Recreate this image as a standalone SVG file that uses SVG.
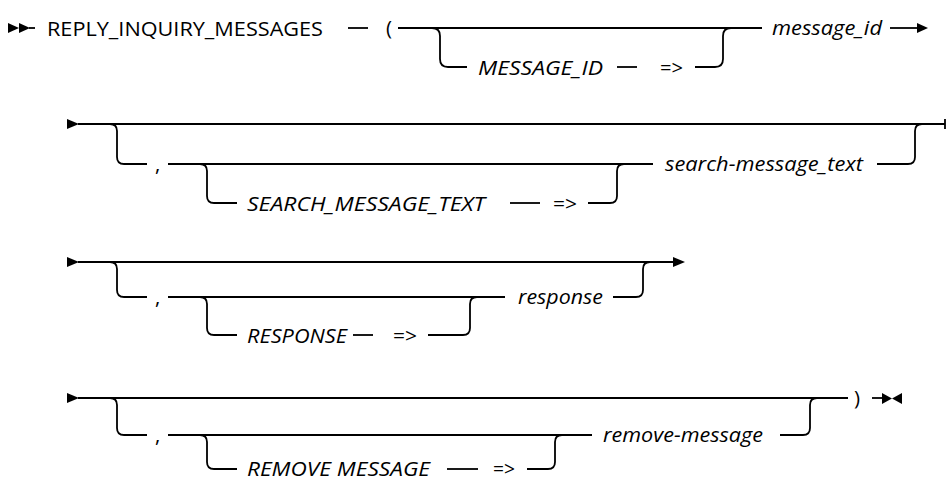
<svg xmlns="http://www.w3.org/2000/svg" width="946" height="481" viewBox="0 0 946 481">
<style>
  .ln { fill: none; stroke: #000; stroke-width: 1.8; }
  .ar { fill: #000; stroke: none; }
  text { font-family: "Open Sans", "Liberation Sans", Arial, sans-serif; font-size: 20.5px; font-weight: 500; fill: #000; }
  .it { font-style: italic; }
</style>
<rect width="946" height="481" fill="#fff"/>
<g id="connectors">
  <!-- row 1 -->
  <polygon class="ar" points="8,23 8,33 19,28"/>
  <polygon class="ar" points="19,23 19,33 30,28"/>
  <path class="ln" d="M 29 28 H 35"/>
  <path class="ln" d="M 348 28 H 368"/>
  <path class="ln" d="M 398 28 H 762"/>
  <path class="ln" d="M 432 28 Q 440 28 440 36 V 59 Q 440 67 448 67 H 467"/>
  <path class="ln" d="M 617 67 H 637"/>
  <path class="ln" d="M 695 67 H 715 Q 723 67 723 59 V 36 Q 723 28 731 28"/>
  <path class="ln" d="M 890 28 H 919"/>
  <polygon class="ar" points="917,23 917,33 928,28"/>
  <!-- row 2 -->
  <polygon class="ar" points="67,119 67,129 79,124"/>
  <path class="ln" d="M 78 124 H 945 M 945 119 V 129"/>
  <path class="ln" d="M 110 124 Q 117 124 117 131 V 157 Q 117 164 124 164 H 147"/>
  <path class="ln" d="M 168 164 H 653"/>
  <path class="ln" d="M 200 164 Q 207 164 207 171 V 196 Q 207 203 214 203 H 237"/>
  <path class="ln" d="M 510 203 H 540"/>
  <path class="ln" d="M 588 203 H 610 Q 617 203 617 196 V 171 Q 617 164 624 164"/>
  <path class="ln" d="M 877 164 H 908 Q 915 164 915 157 V 131 Q 915 124 922 124"/>
  <!-- row 3 -->
  <polygon class="ar" points="67,257 67,267 79,262"/>
  <path class="ln" d="M 78 262 H 675"/>
  <polygon class="ar" points="673,257 673,267 685,262"/>
  <path class="ln" d="M 110 262 Q 117 262 117 269 V 290 Q 117 297 124 297 H 147"/>
  <path class="ln" d="M 168 297 H 505"/>
  <path class="ln" d="M 200 297 Q 207 297 207 304 V 328 Q 207 335 214 335 H 237"/>
  <path class="ln" d="M 353 335 H 373"/>
  <path class="ln" d="M 428 335 H 463 Q 470 335 470 328 V 304 Q 470 297 477 297"/>
  <path class="ln" d="M 613 297 H 636 Q 643 297 643 290 V 269 Q 643 262 650 262"/>
  <!-- row 4 -->
  <polygon class="ar" points="67,393 67,403 79,398"/>
  <path class="ln" d="M 78 398 H 848"/>
  <path class="ln" d="M 110 398 Q 117 398 117 405 V 428 Q 117 435 124 435 H 147"/>
  <path class="ln" d="M 168 435 H 592"/>
  <path class="ln" d="M 200 435 Q 207 435 207 442 V 462 Q 207 469 214 469 H 237"/>
  <path class="ln" d="M 447 469 H 478"/>
  <path class="ln" d="M 527 469 H 548 Q 555 469 555 462 V 442 Q 555 435 562 435"/>
  <path class="ln" d="M 780 435 H 803 Q 810 435 810 428 V 405 Q 810 398 817 398"/>
  <path class="ln" d="M 872 398 H 883"/>
  <polygon class="ar" points="882,393 882,404 892,398.5"/>
  <polygon class="ar" points="902,393 902,404 892,398.5"/>
</g>
<g id="n-reply"><text x="47" y="35.5" textLength="276" lengthAdjust="spacingAndGlyphs">REPLY_INQUIRY_MESSAGES</text></g>
<g id="n-lparen"><text x="386" y="35">(</text></g>
<g id="n-msgid-kw"><text class="it" x="478" y="74.5" textLength="125" lengthAdjust="spacingAndGlyphs">MESSAGE_ID</text></g>
<g id="n-arrow1"><text x="660" y="74.5" textLength="23" lengthAdjust="spacingAndGlyphs">=&gt;</text></g>
<g id="n-msgid"><text class="it" x="772" y="34.5" textLength="110" lengthAdjust="spacingAndGlyphs">message_id</text></g>
<g id="n-comma2"><text x="155" y="170.5">,</text></g>
<g id="n-smt-kw"><text class="it" x="247" y="210.5" textLength="238" lengthAdjust="spacingAndGlyphs">SEARCH_MESSAGE_TEXT</text></g>
<g id="n-arrow2"><text x="553" y="210.5" textLength="24" lengthAdjust="spacingAndGlyphs">=&gt;</text></g>
<g id="n-smt"><text class="it" x="665" y="170.5" textLength="198" lengthAdjust="spacingAndGlyphs">search-message_text</text></g>
<g id="n-comma3"><text x="155" y="303.5">,</text></g>
<g id="n-resp-kw"><text class="it" x="247" y="342.5" textLength="100" lengthAdjust="spacingAndGlyphs">RESPONSE</text></g>
<g id="n-arrow3"><text x="393" y="342.5" textLength="24" lengthAdjust="spacingAndGlyphs">=&gt;</text></g>
<g id="n-resp"><text class="it" x="518" y="303.5" textLength="85" lengthAdjust="spacingAndGlyphs">response</text></g>
<g id="n-comma4"><text x="155" y="441.5">,</text></g>
<g id="n-rm-kw"><text class="it" x="247" y="475.5" textLength="183" lengthAdjust="spacingAndGlyphs">REMOVE MESSAGE</text></g>
<g id="n-arrow4"><text x="493" y="475.5" textLength="22" lengthAdjust="spacingAndGlyphs">=&gt;</text></g>
<g id="n-rm"><text class="it" x="603" y="441.5" textLength="160" lengthAdjust="spacingAndGlyphs">remove-message</text></g>
<g id="n-rparen"><text x="854" y="404.5">)</text></g>
</svg>
